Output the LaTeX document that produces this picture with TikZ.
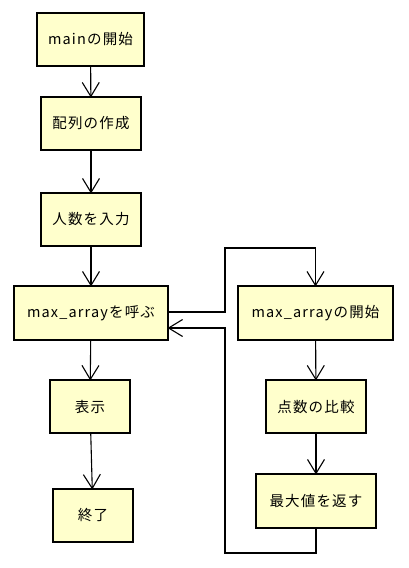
\documentclass[tikz,border=0pt]{standalone}
\usepackage{fontspec}
\setmainfont{Noto Sans CJK JP}[LetterSpace=8]
\usetikzlibrary{decorations.markings}
\definecolor{boxfill}{HTML}{FFFFCC}
\begin{document}
\begin{tikzpicture}[x=1pt,y=-1pt,
  box/.style={draw=black,line width=1.2pt,fill=boxfill,rectangle,inner sep=0pt,
    font=\fontsize{14.5}{17}\selectfont},
  arr/.style={draw=black,line width=1.1pt,postaction={decorate},
    decoration={markings,mark=at position 1 with {\draw[line width=1.1pt,line join=miter] (-14pt,-8.5pt) -- (0,0) -- (-14pt,8.5pt);}}}]
\useasboundingbox (0,0) rectangle (408,568);
\node[box,minimum width=107pt,minimum height=53pt] (b1) at (90.5,39.5) {mainの開始};
\node[box,minimum width=100pt,minimum height=53pt] (b2) at (91,123.5) {配列の作成};
\node[box,minimum width=100pt,minimum height=53pt] (b3) at (91,219.5) {人数を入力};
\node[box,minimum width=154pt,minimum height=54pt] (b4) at (91,313) {max\_arrayを呼ぶ};
\node[box,minimum width=155pt,minimum height=54pt] (b5) at (315.5,313) {max\_arrayの開始};
\node[box,minimum width=80pt,minimum height=53pt] (b6) at (90,406.5) {表示};
\node[box,minimum width=80pt,minimum height=53pt] (b7) at (93,515.5) {終了};
\node[box,minimum width=100pt,minimum height=53pt] (b8) at (316,406.5) {点数の比較};
\node[box,minimum width=120pt,minimum height=54pt] (b9) at (316,501) {最大値を返す};
\coordinate (c1) at (225,248);
\coordinate (c2) at (225,553);
\draw[arr] (b1) -- (b2);
\draw[arr] (b2) -- (b3);
\draw[arr] (b3) -- (b4);
\draw[arr] (b4) -- (b6);
\draw[arr] (b6) -- (b7);
\draw[arr] ([yshift=1pt]b4.east) -| (c1) -| (b5.north);
\draw[arr] (b5) -- (b8);
\draw[arr] (b8) -- (b9);
\draw[arr] (b9.south) |- (c2) |- ([yshift=-15pt]b4.east);
\end{tikzpicture}
\end{document}
